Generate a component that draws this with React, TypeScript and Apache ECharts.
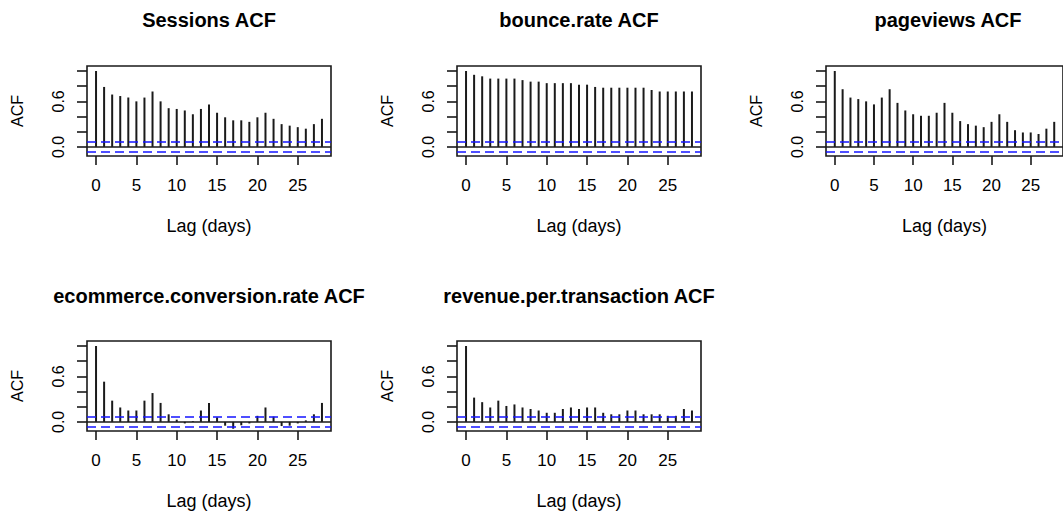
import React, { useEffect, useRef } from "react";
import * as echarts from "echarts";

const LAGS = [0, 1, 2, 3, 4, 5, 6, 7, 8, 9, 10, 11, 12, 13, 14, 15, 16, 17, 18, 19, 20, 21, 22, 23, 24, 25, 26, 27, 28];
const X_TICKS = [0, 5, 10, 15, 20, 25];
const Y_TICKS = [0, 0.2, 0.4, 0.6, 0.8, 1.0];
const Y_LABELS = [0, 0.6];
const CI = 0.07;

const SESSIONS = [1.0, 0.79, 0.69, 0.67, 0.65, 0.6, 0.65, 0.73, 0.6, 0.51, 0.5, 0.48, 0.43, 0.5, 0.56, 0.45, 0.39, 0.35, 0.35, 0.33, 0.39, 0.45, 0.37, 0.3, 0.28, 0.26, 0.24, 0.3, 0.37];
const BOUNCE = [1.0, 0.95, 0.93, 0.9, 0.9, 0.9, 0.9, 0.88, 0.86, 0.86, 0.84, 0.84, 0.84, 0.84, 0.82, 0.82, 0.79, 0.78, 0.78, 0.78, 0.78, 0.78, 0.78, 0.75, 0.73, 0.73, 0.73, 0.73, 0.73];
const PAGEVIEWS = [1.0, 0.76, 0.65, 0.63, 0.6, 0.56, 0.65, 0.76, 0.58, 0.48, 0.43, 0.41, 0.41, 0.45, 0.58, 0.45, 0.34, 0.3, 0.28, 0.26, 0.33, 0.43, 0.33, 0.22, 0.19, 0.19, 0.17, 0.24, 0.33];
const ECOMM = [1.0, 0.53, 0.28, 0.19, 0.15, 0.15, 0.28, 0.38, 0.25, 0.1, 0.03, -0.02, 0.01, 0.15, 0.25, 0.06, -0.05, -0.09, -0.045, -0.02, 0.08, 0.19, 0.07, -0.055, -0.05, -0.02, 0.02, 0.1, 0.25];
const REVENUE = [1.0, 0.32, 0.26, 0.19, 0.28, 0.21, 0.23, 0.19, 0.17, 0.15, 0.12, 0.12, 0.17, 0.19, 0.17, 0.19, 0.19, 0.12, 0.1, 0.1, 0.15, 0.15, 0.1, 0.1, 0.1, 0.08, 0.08, 0.17, 0.15];

const TITLES = ["Sessions ACF", "bounce.rate ACF", "pageviews ACF", "ecommerce.conversion.rate ACF", "revenue.per.transaction ACF"];
const SERIES = [SESSIONS, BOUNCE, PAGEVIEWS, ECOMM, REVENUE];

const FONT = '"Liberation Sans", Arial, Helvetica, sans-serif';
const COL_LEFT = [87, 457, 826];
const ROW_TOP = [66, 341];
const BOX_W = 244;
const BOX_H = 90;

export default function App() {
  const ref = useRef<HTMLDivElement>(null);
  useEffect(() => {
    if (!ref.current) return;
    const chart = echarts.init(ref.current, null, { renderer: "svg" });
    const grids: any[] = [];
    const xAxes: any[] = [];
    const yAxes: any[] = [];
    const series: any[] = [];
    const graphics: any[] = [];
    SERIES.forEach((vals, i) => {
      const col = i % 3;
      const row = Math.floor(i / 3);
      const left = COL_LEFT[col];
      const top = ROW_TOP[row];
      grids.push({ left, top, width: BOX_W, height: BOX_H, show: true, borderColor: "#1a1a1a", borderWidth: 1.6, backgroundColor: "transparent", containLabel: false });
      xAxes.push({
        type: "value", gridIndex: i, min: -1.12, max: 29.12, position: "bottom",
        axisLine: { show: false, onZero: false },
        splitLine: { show: false },
        axisTick: { show: true, length: 9, customValues: X_TICKS, lineStyle: { color: "#1a1a1a", width: 1.6 } },
        axisLabel: { show: true, customValues: X_TICKS, margin: 21, fontSize: 17, color: "#000", fontFamily: FONT },
        name: "Lag (days)", nameLocation: "middle", nameGap: 61,
        nameTextStyle: { fontSize: 18, color: "#000", fontFamily: FONT },
      });
      yAxes.push({
        type: "value", gridIndex: i, min: -0.12, max: 1.066, position: "left",
        axisLine: { show: false, onZero: false },
        splitLine: { show: false },
        axisTick: { show: true, length: 10, customValues: Y_TICKS, lineStyle: { color: "#1a1a1a", width: 1.6 } },
        axisLabel: { show: true, customValues: Y_LABELS, rotate: 90, margin: 21, fontSize: 16, color: "#000", fontFamily: FONT, formatter: (v: number) => v.toFixed(1) },
        name: "ACF", nameLocation: "middle", nameRotate: 90, nameGap: 62,
        nameTextStyle: { fontSize: 16, color: "#000", fontFamily: FONT },
      });
      series.push({
        type: "bar", xAxisIndex: i, yAxisIndex: i, barWidth: 2,
        data: LAGS.map((l, j) => [l, vals[j]]),
        itemStyle: { color: "#1a1a1a" },
        markLine: {
          silent: true, symbol: "none", label: { show: false },
          data: [
            { yAxis: 0, lineStyle: { color: "#1a1a1a", type: "solid", width: 1.6 } },
            { yAxis: CI, lineStyle: { color: "#1515ff", type: [9, 5], width: 1.7 } },
            { yAxis: -CI, lineStyle: { color: "#1515ff", type: [9, 5], width: 1.7 } },
          ],
        },
      });
      graphics.push({
        type: "text", x: left + BOX_W / 2, y: row === 0 ? 20 : 296,
        style: { text: TITLES[i], font: `bold 20px ${FONT}`, fill: "#000", textAlign: "center", textVerticalAlign: "middle" },
      });
    });
    chart.setOption({
      animation: false,
      backgroundColor: "#fff",
      grid: grids,
      xAxis: xAxes,
      yAxis: yAxes,
      series,
      graphic: graphics,
    });
    return () => chart.dispose();
  }, []);
  return <div ref={ref} style={{ position: "fixed", left: 0, top: 0, width: 1063, height: 515, background: "#fff" }} />;
}
